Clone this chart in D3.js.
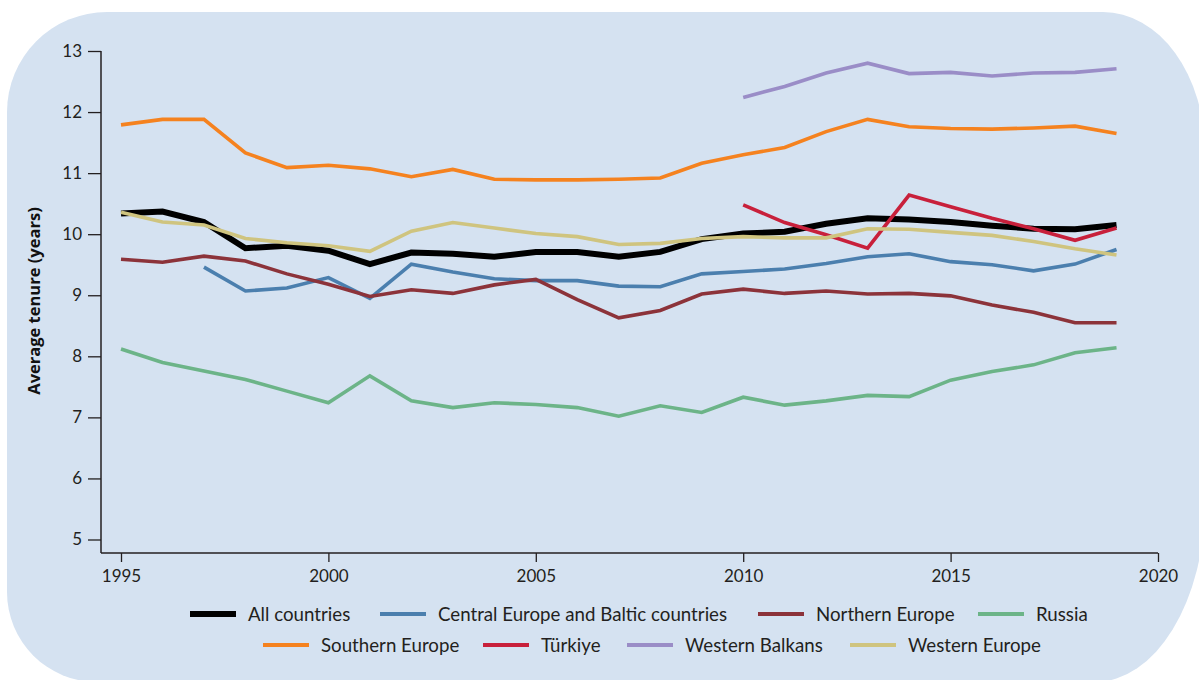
<!DOCTYPE html>
<html>
<head>
<meta charset="utf-8">
<script src="https://cdn.jsdelivr.net/npm/d3@7"></script>
<style>
  html, body { margin: 0; padding: 0; background: #ffffff; }
  svg { display: block; }
</style>
</head>
<body>
<svg id="chart" width="1199" height="680"></svg>
<script>
const years = d3.range(1995, 2020);
const xTicks = [1995, 2000, 2005, 2010, 2015, 2020];
const yTicks = [5, 6, 7, 8, 9, 10, 11, 12, 13];
const yLabel = "Average tenure (years)";

const seriesNames = ["All countries", "Central Europe and Baltic countries", "Northern Europe", "Russia",
                     "Southern Europe", "Türkiye", "Western Balkans", "Western Europe"];
const seriesColors = ["#000000", "#4b7fae", "#8c333a", "#6cb488", "#f5821f", "#c8203b", "#9a8dc7", "#cfc47f"];

const allCountries = [10.34, 10.37, 10.20, 9.77, 9.81, 9.73, 9.51, 9.70, 9.68, 9.63, 9.71, 9.71, 9.63, 9.71, 9.92, 10.01, 10.04, 10.17, 10.26, 10.24, 10.20, 10.14, 10.09, 10.08, 10.15];
const centralEurope = [null, null, 9.46, 9.07, 9.12, 9.29, 8.95, 9.51, 9.38, 9.27, 9.24, 9.24, 9.15, 9.14, 9.35, 9.39, 9.43, 9.52, 9.63, 9.68, 9.55, 9.50, 9.40, 9.51, 9.75];
const northernEurope = [9.59, 9.54, 9.64, 9.56, 9.35, 9.18, 8.98, 9.09, 9.03, 9.17, 9.26, 8.93, 8.63, 8.75, 9.02, 9.10, 9.03, 9.07, 9.02, 9.03, 8.99, 8.84, 8.72, 8.55, 8.55];
const russia = [8.12, 7.90, 7.76, 7.62, 7.43, 7.24, 7.68, 7.27, 7.16, 7.24, 7.21, 7.16, 7.02, 7.19, 7.08, 7.33, 7.20, 7.27, 7.36, 7.34, 7.61, 7.75, 7.86, 8.06, 8.14];
const southernEurope = [11.79, 11.88, 11.88, 11.33, 11.09, 11.13, 11.07, 10.94, 11.06, 10.90, 10.89, 10.89, 10.90, 10.92, 11.16, 11.30, 11.42, 11.68, 11.88, 11.76, 11.73, 11.72, 11.74, 11.77, 11.65];
const turkiye = [null, null, null, null, null, null, null, null, null, null, null, null, null, null, null, 10.48, 10.19, 9.99, 9.77, 10.64, 10.45, 10.26, 10.09, 9.90, 10.10];
const westernBalkans = [null, null, null, null, null, null, null, null, null, null, null, null, null, null, null, 12.24, 12.42, 12.64, 12.80, 12.63, 12.65, 12.59, 12.64, 12.65, 12.71];
const westernEurope = [10.36, 10.20, 10.15, 9.93, 9.86, 9.81, 9.72, 10.05, 10.19, 10.10, 10.01, 9.96, 9.83, 9.85, 9.93, 9.96, 9.94, 9.94, 10.09, 10.08, 10.03, 9.98, 9.88, 9.76, 9.66];

const seriesValues = [allCountries, centralEurope, northernEurope, russia, southernEurope, turkiye, westernBalkans, westernEurope];

const svg = d3.select("#chart");
const FONT = "Lato, 'Open Sans', sans-serif";
const axisColor = "#231f20";

// background panel with rounded corners
const L = 7, T = 12, R = 1205, B = 682;
const bg = [
  `M${L + 100},${T}`,
  `H${R - 102}`,
  `A102,140 0 0 1 ${R},${T + 140}`,
  `V${B - 180}`,
  `A110,180 0 0 1 ${R - 110},${B}`,
  `H${L + 90}`,
  `A90,90 0 0 1 ${L},${B - 90}`,
  `V${T + 100}`,
  `A100,100 0 0 1 ${L + 100},${T}`,
  "Z"
].join(" ");
svg.append("path").attr("d", bg).attr("fill", "#d5e2f1");

const x = d3.scaleLinear().domain([1995, 2020]).range([121, 1158]);
const y = d3.scaleLinear().domain([5, 13]).range([539.5, 51]);
const axisX0 = 101, axisY0 = 553;

// Y axis
const gy = svg.append("g").attr("transform", `translate(${axisX0},0)`)
  .call(d3.axisLeft(y).tickValues(yTicks).tickSize(13).tickPadding(6).tickFormat(d3.format("d")));
gy.select(".domain").remove();
gy.selectAll(".tick line").attr("stroke", axisColor).attr("stroke-width", 1.3);
gy.selectAll(".tick text").attr("font-family", FONT).attr("font-size", 17).attr("fill", "#231f20");
svg.append("line").attr("x1", axisX0).attr("x2", axisX0).attr("y1", y(13)).attr("y2", axisY0)
  .attr("stroke", axisColor).attr("stroke-width", 1.5);

// X axis
const gx = svg.append("g").attr("transform", `translate(0,${axisY0})`)
  .call(d3.axisBottom(x).tickValues(xTicks).tickSize(9).tickPadding(8).tickFormat(d3.format("d")));
gx.select(".domain").remove();
gx.selectAll(".tick line").attr("stroke", axisColor).attr("stroke-width", 1.3);
gx.selectAll(".tick text").attr("font-family", FONT).attr("font-size", 17).attr("fill", "#231f20");
svg.append("line").attr("x1", axisX0).attr("x2", x(2020)).attr("y1", axisY0).attr("y2", axisY0)
  .attr("stroke", axisColor).attr("stroke-width", 1.5);

// Y label
svg.append("text")
  .attr("transform", `translate(40,301) rotate(-90)`)
  .attr("text-anchor", "middle")
  .attr("font-family", "'Open Sans', sans-serif").attr("font-weight", "bold").attr("font-size", 16.5)
  .attr("fill", "#111").text(yLabel);

// Lines
const line = d3.line()
  .defined(d => d.v != null)
  .x(d => x(d.year)).y(d => y(d.v));

seriesValues.forEach((vals, i) => {
  const data = years.map((yr, j) => ({ year: yr, v: vals[j] }));
  svg.append("path")
    .datum(data)
    .attr("fill", "none")
    .attr("stroke", seriesColors[i])
    .attr("stroke-width", i === 0 ? 6 : 3.6)
    .attr("stroke-linejoin", "miter")
    .attr("d", line);
});

// Legend
const legendRows = [
  { y: 614, items: [0, 1, 2, 3], starts: [190, 380, 758, 978] },
  { y: 645, items: [4, 5, 6, 7], starts: [263, 483, 627, 850] }
];
legendRows.forEach(row => {
  row.items.forEach((idx, k) => {
    const sx = row.starts[k];
    svg.append("line")
      .attr("x1", sx).attr("x2", sx + 46)
      .attr("y1", row.y).attr("y2", row.y)
      .attr("stroke", seriesColors[idx])
      .attr("stroke-width", idx === 0 ? 6 : 4);
    svg.append("text")
      .attr("x", sx + 58).attr("y", row.y)
      .attr("dy", "0.35em")
      .attr("font-family", FONT).attr("font-size", 18.7)
      .attr("fill", "#231f20")
      .text(seriesNames[idx]);
  });
});
</script>
</body>
</html>
